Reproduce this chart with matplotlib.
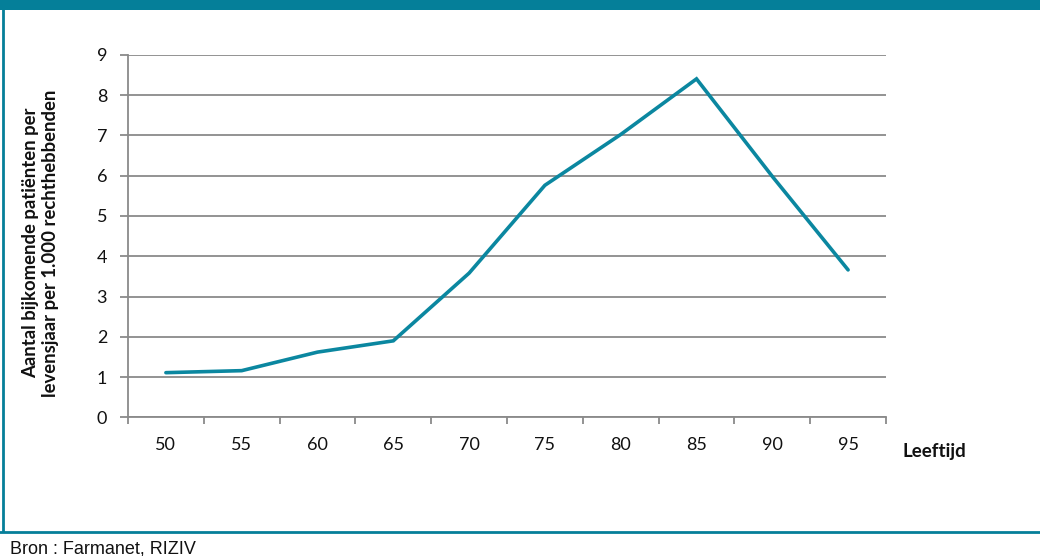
import matplotlib
matplotlib.use("Agg")
import matplotlib.pyplot as plt
from matplotlib.patches import Rectangle
from matplotlib.lines import Line2D

# Data
leeftijd = ["50", "55", "60", "65", "70", "75", "80", "85", "90", "95"]
patienten = [1.11, 1.16, 1.62, 1.90, 3.58, 5.76, 7.02, 8.40, 5.98, 3.66]
y_ticks = [0, 1, 2, 3, 4, 5, 6, 7, 8, 9]

TEAL = "#0b87a0"
FRAME = "#057f99"
GRID = "#8a8a8a"
FONT = "Lato"

W, H = 1040, 556
fig = plt.figure(figsize=(W / 100, H / 100), dpi=100)
fig.patch.set_facecolor("white")

# Frame: top band, left rule, bottom rule
fig.add_artist(Rectangle((0, 1 - 10 / H), 1, 10 / H, transform=fig.transFigure,
                         facecolor=FRAME, edgecolor="none"))
fig.add_artist(Line2D([2.5 / W, 2.5 / W], [1 - 10 / H, 1 - 531 / H],
                      transform=fig.transFigure, color=FRAME, lw=2))
fig.add_artist(Line2D([0, 1], [1 - 531.5 / H, 1 - 531.5 / H],
                      transform=fig.transFigure, color=FRAME, lw=2))

left, right = 128 / W, 886 / W
top, bottom = 1 - 54.7 / H, 1 - 417.4 / H
ax = fig.add_axes([left, bottom, right - left, top - bottom])

x = list(range(len(leeftijd)))
ax.plot(x, patienten, color=TEAL, lw=2.6, solid_capstyle="round",
        solid_joinstyle="miter", zorder=3)

ax.set_xlim(-0.5, len(leeftijd) - 0.5)
ax.set_ylim(0, 9)
ax.set_yticks(y_ticks)
ax.set_yticklabels([str(v) for v in y_ticks], fontsize=13, fontfamily=FONT)
ax.set_xticks(x)
ax.set_xticklabels(leeftijd, fontsize=13, fontfamily=FONT)
ax.set_xticks([i - 0.5 for i in range(len(leeftijd) + 1)], minor=True)

ax.tick_params(axis="x", which="major", length=0, pad=14, colors="#111111")
ax.tick_params(axis="x", which="minor", length=5, width=1.3, color=GRID)
ax.tick_params(axis="y", length=6, width=1.3, pad=9, colors="#111111")
ax.tick_params(axis="y", color=GRID)

ax.grid(axis="y", color=GRID, lw=1.3)
ax.set_axisbelow(True)
for s in ["top", "right"]:
    ax.spines[s].set_visible(False)
for s in ["left", "bottom"]:
    ax.spines[s].set_color(GRID)
    ax.spines[s].set_linewidth(1.3)

fig.text(40.5 / W, 1 - 243 / H,
         "Aantal bijkomende patiënten per\nlevensjaar per 1.000 rechthebbenden",
         rotation=90, ha="center", va="center", fontsize=13.3, fontweight="bold",
         fontfamily=FONT, linespacing=1.17, color="#111111")
fig.text(903 / W, 1 - 452 / H, "Leeftijd", ha="left", va="center", fontsize=13.5,
         fontweight="bold", fontfamily=FONT, color="#111111")
fig.text(10.5 / W, 1 - 553 / H, "Bron : Farmanet, RIZIV", ha="left", va="baseline",
         fontsize=13, fontfamily="Liberation Sans", color="#111111")

fig.savefig("out.png", dpi=100, facecolor="white")
